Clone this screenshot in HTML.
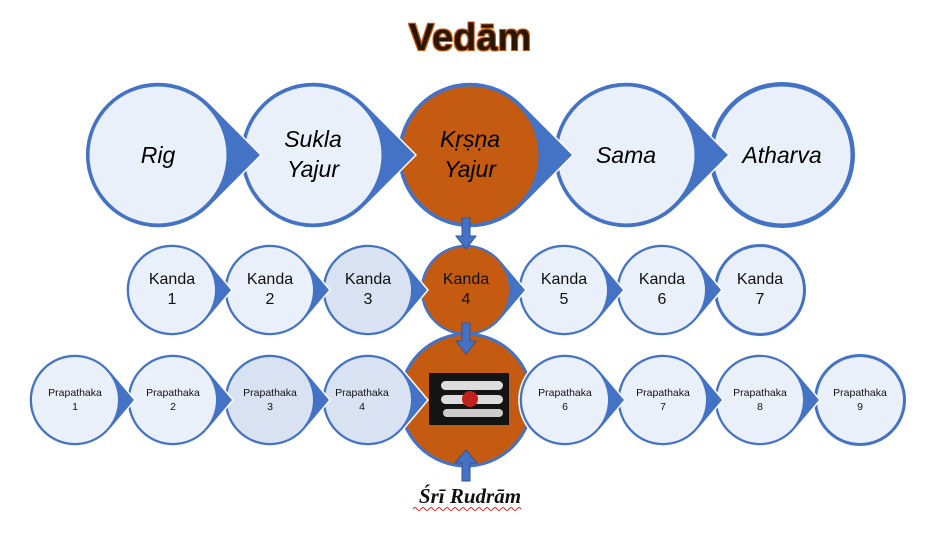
<!DOCTYPE html>
<html><head><meta charset="utf-8"><style>
html,body{margin:0;padding:0;background:#fff;width:951px;height:538px;overflow:hidden}
svg{display:block}
.t{font-family:"Liberation Sans",sans-serif;font-style:italic;font-size:23px;fill:#000;text-anchor:middle}
.k{font-family:"Liberation Sans",sans-serif;font-size:16px;fill:#111;text-anchor:middle}
.p{font-family:"Liberation Sans",sans-serif;font-size:10.5px;fill:#111;text-anchor:middle}
</style></head><body>
<svg width="951" height="538" viewBox="0 0 951 538">
<defs>
<filter id="g" x="-20%" y="-20%" width="140%" height="140%"><feMorphology operator="dilate" radius="0.8" in="SourceAlpha" result="d"/><feFlood flood-color="#C55A11"/><feComposite in2="d" operator="in" result="o"/><feMerge><feMergeNode in="o"/><feMergeNode in="SourceGraphic"/></feMerge></filter>
<path id="tT" d="M51.6,-51.8 L103,0 L51.6,51.8 A73,73 0 1 1 51.6,-51.8Z" fill="#4472C4" stroke="#fff" stroke-width="1.5"/>
<path id="tM" d="M35.2,-29.5 L60,0 L35.2,29.5 A46,46 0 1 1 35.2,-29.5Z" fill="#4472C4" stroke="#fff" stroke-width="1.5"/>
</defs>
<text x="470" y="50" font-family="Liberation Sans,sans-serif" font-weight="bold" font-size="38" fill="#2a1406" text-anchor="middle" filter="url(#g)">Vedām</text>

<!-- top row -->
<circle cx="782" cy="155" r="73" fill="#4472C4"/>
<circle cx="782" cy="155" r="68.5" fill="#EAF0F9"/>
<use href="#tT" x="626" y="155"/><circle cx="626" cy="155" r="68.5" fill="#EAF0F9"/>
<use href="#tT" x="470" y="155"/><circle cx="470" cy="155" r="68.5" fill="#C55A11"/>
<use href="#tT" x="313" y="155"/><circle cx="313" cy="155" r="68.5" fill="#EAF0F9"/>
<use href="#tT" x="158" y="155"/><circle cx="158" cy="155" r="68.5" fill="#EAF0F9"/>
<text class="t" x="158" y="163">Rig</text>
<text class="t" x="313" y="147">Sukla</text><text class="t" x="313" y="177">Yajur</text>
<text class="t" x="470" y="147">Kṛṣṇa</text><text class="t" x="470" y="177">Yajur</text>
<text class="t" x="626" y="163">Sama</text>
<text class="t" x="782" y="163">Atharva</text>

<!-- middle row -->
<circle cx="760" cy="290" r="46" fill="#4472C4"/><circle cx="760" cy="290" r="43" fill="#EAF0F9"/>
<use href="#tM" x="662" y="290"/><circle cx="662" cy="290" r="43" fill="#EAF0F9"/>
<use href="#tM" x="564" y="290"/><circle cx="564" cy="290" r="43" fill="#EAF0F9"/>
<use href="#tM" x="466" y="290"/><circle cx="466" cy="290" r="43" fill="#C55A11"/>
<use href="#tM" x="368" y="290"/><circle cx="368" cy="290" r="43" fill="#D9E2F3"/>
<use href="#tM" x="270" y="290"/><circle cx="270" cy="290" r="43" fill="#EAF0F9"/>
<use href="#tM" x="172" y="290"/><circle cx="172" cy="290" r="43" fill="#EAF0F9"/>
<text class="k" x="172" y="284">Kanda</text><text class="k" x="172" y="304">1</text>
<text class="k" x="270" y="284">Kanda</text><text class="k" x="270" y="304">2</text>
<text class="k" x="368" y="284">Kanda</text><text class="k" x="368" y="304">3</text>
<text class="k" x="466" y="284">Kanda</text><text class="k" x="466" y="304">4</text>
<text class="k" x="564" y="284">Kanda</text><text class="k" x="564" y="304">5</text>
<text class="k" x="662" y="284">Kanda</text><text class="k" x="662" y="304">6</text>
<text class="k" x="760" y="284">Kanda</text><text class="k" x="760" y="304">7</text>

<!-- bottom row -->
<circle cx="466" cy="400" r="66" fill="#C55A11" stroke="#4472C4" stroke-width="3"/>
<circle cx="860" cy="400" r="46" fill="#4472C4"/><circle cx="860" cy="400" r="43" fill="#EAF0F9"/>
<use href="#tM" x="760" y="400"/><circle cx="760" cy="400" r="43" fill="#EAF0F9"/>
<use href="#tM" x="663" y="400"/><circle cx="663" cy="400" r="43" fill="#EAF0F9"/>
<use href="#tM" x="565" y="400"/><circle cx="565" cy="400" r="43" fill="#EAF0F9"/>
<use href="#tM" x="368" y="400"/><circle cx="368" cy="400" r="43" fill="#D9E2F3"/>
<use href="#tM" x="270" y="400"/><circle cx="270" cy="400" r="43" fill="#D9E2F3"/>
<use href="#tM" x="173" y="400"/><circle cx="173" cy="400" r="43" fill="#EAF0F9"/>
<use href="#tM" x="75" y="400"/><circle cx="75" cy="400" r="43" fill="#EAF0F9"/>
<text class="p" x="75" y="396">Prapathaka</text><text class="p" x="75" y="410">1</text>
<text class="p" x="173" y="396">Prapathaka</text><text class="p" x="173" y="410">2</text>
<text class="p" x="270" y="396">Prapathaka</text><text class="p" x="270" y="410">3</text>
<text class="p" x="362" y="396">Prapathaka</text><text class="p" x="362" y="410">4</text>
<text class="p" x="565" y="396">Prapathaka</text><text class="p" x="565" y="410">6</text>
<text class="p" x="663" y="396">Prapathaka</text><text class="p" x="663" y="410">7</text>
<text class="p" x="760" y="396">Prapathaka</text><text class="p" x="760" y="410">8</text>
<text class="p" x="860" y="396">Prapathaka</text><text class="p" x="860" y="410">9</text>

<!-- image -->
<rect x="429" y="373" width="80" height="52" fill="#141414"/>
<rect x="441" y="381" width="62" height="9" rx="4.5" fill="#ddd"/>
<rect x="441" y="395" width="62" height="9" rx="4.5" fill="#ddd"/>
<rect x="443" y="409" width="60" height="8" rx="4" fill="#ccc"/>
<circle cx="470" cy="399" r="8" fill="#c0231c"/>

<!-- arrows -->
<g fill="#4472C4" stroke="#2F5597" stroke-width="1">
<polygon points="462,218 470,218 470,236 476,236 466,249 456,236 462,236"/>
<polygon points="462,323 470,323 470,341 476,341 466,354 456,341 462,341"/>
<polygon points="462,481 470,481 470,463 477,463 466,450 455,463 462,463"/>
</g>
<text x="470" y="503" font-family="Liberation Serif,serif" font-weight="bold" font-style="italic" font-size="21" fill="#111" text-anchor="middle">Śrī Rudrām</text>
<path d="M413,509 q2,-3 4,0 t4,0 t4,0 t4,0 t4,0 t4,0 t4,0 t4,0 t4,0 t4,0 t4,0 t4,0 t4,0 t4,0 t4,0 t4,0 t4,0 t4,0 t4,0 t4,0 t4,0 t4,0 t4,0 t4,0 t4,0 t4,0 t4,0" fill="none" stroke="#e02020" stroke-width="1"/>
</svg>
</body></html>
